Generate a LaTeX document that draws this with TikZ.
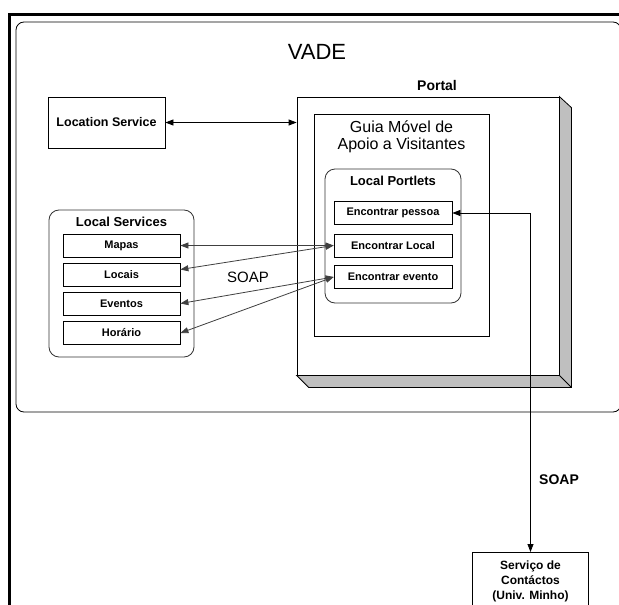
\documentclass[tikz,border=0pt]{standalone}
\usepackage{fontspec}
\setmainfont{Liberation Sans}
\usetikzlibrary{arrows.meta}

\begin{document}
\begin{tikzpicture}[x=1pt, y=-1pt, every node/.style = {shape=rectangle, draw, align=center, inner sep=0pt}, line width=0.8pt, >={Triangle[length=8pt,width=6pt]}]
	\tikzstyle{box} = [font=\bfseries\fontsize{11}{13}\selectfont, minimum width=117pt, minimum height=23pt]
	\tikzstyle{group} = [rounded corners=10pt, draw=black!80]
	\tikzstyle{title} = [draw=none, font=\bfseries\fontsize{13}{15}\selectfont]
	\tikzstyle{soap} = [draw=black!75, <->]
	\clip (0,0) rectangle (619,605);
	\fill[white] (0,0) rectangle (619,605);
	% frame and VADE area
	\draw[line width=3pt] (9.5,620) -- (9.5,14) -- (630,14);
	\draw[rounded corners=8pt] (16,22) rectangle (621,412);
	\node[draw=none, font=\fontsize{22}{24}\selectfont] (vade) at (317,52) {VADE};
	\node[draw=none, font=\bfseries\fontsize{14}{16}\selectfont] (portaltitle) at (437,85) {Portal};
	% portal with its shadow
	\node[minimum width=262pt, minimum height=278pt] (portal) at (428,236) {};
	\filldraw[fill=black!25] (portal.north east) -- ++(12,11) -- ([shift={(12,12)}]portal.south east) -- ([shift={(12,12)}]portal.south west) -- (portal.south west) -- (portal.south east) -- cycle;
	\draw (portal.south east) -- ++(12,12);
	\node[minimum width=175pt, minimum height=222pt] (guia) at (401.5,225) {};
	\node[draw=none, font=\fontsize{16}{17}\selectfont] (guiatitle) at (401.5,137) {Guia Móvel de\\Apoio a Visitantes};
	\node[group, minimum width=136pt, minimum height=134pt] (portlets) at (393,236) {};
	\node[title] at (393,181) {Local Portlets};
	\node[box, minimum width=118pt] (pessoa) at (393,213) {Encontrar pessoa};
	\node[box, minimum width=118pt] (local) at (393,245.5) {Encontrar Local};
	\node[box, minimum width=118pt] (evento) at (393,277) {Encontrar evento};
	% location service
	\node[minimum width=117pt, minimum height=51pt, font=\bfseries\fontsize{12.5}{14}\selectfont] (loc) at (106.5,122.5) {Location Service};
	\draw[<->] (loc) -- (portal.west |- loc);
	% local services
	\node[group, minimum width=145pt, minimum height=147pt] (services) at (121.5,283.5) {};
	\node[title] at (121.5,222) {Local Services};
	\node[box] (mapas) at (121.5,245.5) {Mapas};
	\node[box] (locais) at (121.5,274.5) {Locais};
	\node[box] (eventos) at (121.5,303.5) {Eventos};
	\node[box] (horario) at (121.5,333) {Horário};
	\draw[soap] (local.west) -- (mapas.east);
	\draw[soap] (local.west) -- ([yshift=5pt]locais.east);
	\draw[soap] (evento.west) -- (eventos.east);
	\draw[soap] (evento.west) -- (horario.east);
	\node[draw=none, font=\fontsize{15}{17}\selectfont] (soapleft) at (248,277) {SOAP};
	% external contacts service
	\node[font=\bfseries\fontsize{12}{15}\selectfont, anchor=north, minimum width=116pt, minimum height=57pt] (contactos) at (530.5,552) {Serviço de\\Contáctos\\(Univ. Minho)};
	\draw[<->] (pessoa.east) -| (contactos.north);
	\node[title, font=\bfseries\fontsize{14}{16}\selectfont] (soapright) at (559,480) {SOAP};
\end{tikzpicture}
\end{document}
